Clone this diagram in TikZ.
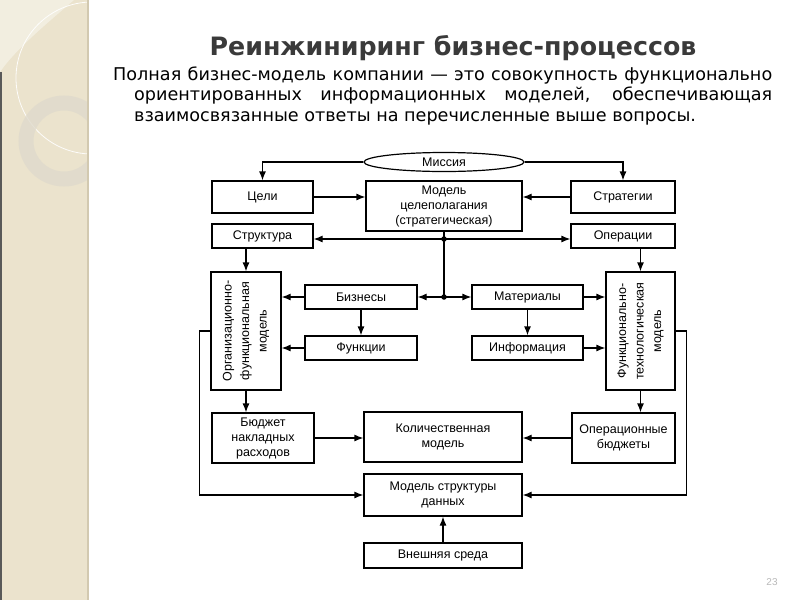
\documentclass[tikz,border=0pt]{standalone}
\usepackage{fontspec}
\setmainfont{Liberation Sans}
\newfontfamily\boxfont{Liberation Sans}
\newfontfamily\parafont{DejaVu Sans}
\usetikzlibrary{arrows.meta,shapes.geometric,calc}
\definecolor{stripbg}{HTML}{EBE3CD}
\definecolor{striplight}{HTML}{F2EEE0}
\definecolor{stripedge}{HTML}{D2C9B0}
\definecolor{ringcol}{HTML}{DFDACC}
\definecolor{titlecol}{HTML}{3A3A3A}
\begin{document}
\begin{tikzpicture}[x=1pt,y=-1pt,
  box/.style={draw=black, line width=1.2pt, inner sep=1pt, align=center,
    font={\boxfont\fontsize{12.5}{15}\selectfont}, text=black},
  arr/.style={line width=1.2pt, -{Latex[length=9pt,width=7pt]}},
  plain/.style={line width=1.2pt},
  dot/.style={circle, fill=black, inner sep=0pt, minimum size=5.5pt}]
\useasboundingbox (0,0) rectangle (800,600);
% background
\fill[white] (0,0) rectangle (800,600);
\fill[stripbg] (0,0) rectangle (88,600);
\begin{scope}
\clip (0,0) rectangle (88,600);
\fill[striplight] (0,0) -- (74,0) .. controls (45,25) and (15,50) .. (0,72) -- cycle;
\draw[white, line width=0.8pt, opacity=0.9] (92,78) circle[radius=76];
\draw[ringcol, line width=15pt, opacity=0.8] (64,141) circle[radius=38];
\end{scope}
\draw[stripedge, line width=2pt] (88,0) -- (88,600);
\draw[gray!70!black, line width=1.5pt] (0.75,72) -- (0.75,600);
% title and text
\node[font={\parafont\bfseries\fontsize{25.3}{30}\selectfont}, text=titlecol] (title) at (453,48) {Реинжиниринг бизнес-процессов};
\node[anchor=base west, inner sep=0pt, font={\parafont\fontsize{17.6}{20.5}\selectfont}] (para) at (113,80)
  {\parbox[t]{659pt}{\hangindent=21pt\hangafter=1 Полная бизнес-модель компании — это совокупность функционально\linebreak
  ориентированных информационных моделей, обеспечивающая\linebreak
  взаимосвязанные ответы на перечисленные выше вопросы.}};
\node[font={\boxfont\fontsize{10}{12}\selectfont}, text=gray!55] (pnum) at (772,582) {23};
% diagram nodes
\node[box, ellipse, minimum width=160pt, minimum height=19pt, inner sep=0pt] (mission) at (444,162) {Миссия};
\node[box, minimum width=101pt, minimum height=32pt] (goals) at (262.5,197) {Цели};
\node[box, minimum width=156pt, minimum height=50pt] (model) at (444,206) {Модель\\целеполагания\\(стратегическая)};
\node[box, minimum width=104pt, minimum height=32pt] (strat) at (623,197) {Стратегии};
\node[box, minimum width=101pt, minimum height=24pt] (struct) at (262.5,236) {Структура};
\node[box, minimum width=104pt, minimum height=24pt] (ops) at (623,236) {Операции};
\node[box, minimum width=70pt, minimum height=118pt] (org) at (246,331)
  {\rotatebox{90}{\begin{tabular}{@{}c@{}}Организационно-\\[2.5pt]функциональная\\[2.5pt]модель\end{tabular}}};
\node[box, minimum width=69pt, minimum height=118pt] (ft) at (640.5,331)
  {\rotatebox{90}{\begin{tabular}{@{}c@{}}Функционально-\\[2.5pt]технологическая\\[2.5pt]модель\end{tabular}}};
\node[box, minimum width=112pt, minimum height=24pt] (bus) at (361,297) {Бизнесы};
\node[box, minimum width=112pt, minimum height=24pt] (func) at (361,348) {Функции};
\node[box, minimum width=111pt, minimum height=24pt] (mat) at (527.5,297) {Материалы};
\node[box, minimum width=111pt, minimum height=24pt] (info) at (527.5,348) {Информация};
\node[box, minimum width=102pt, minimum height=50pt] (budget) at (263,438) {Бюджет\\накладных\\расходов};
\node[box, minimum width=158pt, minimum height=50pt] (quant) at (443,437) {Количественная\\модель};
\node[box, minimum width=103pt, minimum height=50pt] (opbud) at (623.5,438) {Операционные\\бюджеты};
\node[box, minimum width=158pt, minimum height=42pt] (dstruct) at (443,495) {Модель структуры\\данных};
\node[box, minimum width=158pt, minimum height=25pt] (env) at (443,555.5) {Внешняя среда};
% junctions
\coordinate (j1) at (444,239);
\coordinate (j2) at (444,297);
% connectors
\draw[arr] (mission.west) -| (goals.north);
\draw[arr] (mission.east) -| (strat.north);
\draw[arr] (goals.east) -- (goals.east -| model.west);
\draw[arr] (strat.west) -- (strat.west -| model.east);
\draw[plain] (model.south) -- (j2);
\draw[arr] (j1) -- (j1 -| struct.east);
\draw[arr] (j1) -- (j1 -| ops.west);
\draw[arr] (j2) -- (bus.east);
\draw[arr] (j2) -- (mat.west);
\node[dot] (d1) at (j1) {};
\node[dot] (d2) at (j2) {};
\draw[arr] (struct.south -| org.north) -- (org.north);
\draw[arr] (ops.south -| ft.north) -- (ft.north);
\draw[arr] (bus.west) -- (bus.west -| org.east);
\draw[arr] (func.west) -- (func.west -| org.east);
\draw[arr] (mat.east) -- (mat.east -| ft.west);
\draw[arr] (info.east) -- (info.east -| ft.west);
\draw[arr] (bus.south) -- (func.north);
\draw[arr] (mat.south) -- (info.north);
\draw[arr] (org.south) -- (org.south |- budget.north);
\draw[arr] (ft.south) -- (ft.south |- opbud.north);
\draw[arr] (budget.east) -- (budget.east -| quant.west);
\draw[arr] (opbud.west) -- (opbud.west -| quant.east);
\draw[arr] (org.west) -- ++(-11,0) |- (dstruct.west);
\draw[arr] (ft.east) -- ++(11,0) |- (dstruct.east);
\draw[arr] (env.north) -- (dstruct.south);
\end{tikzpicture}
\end{document}
